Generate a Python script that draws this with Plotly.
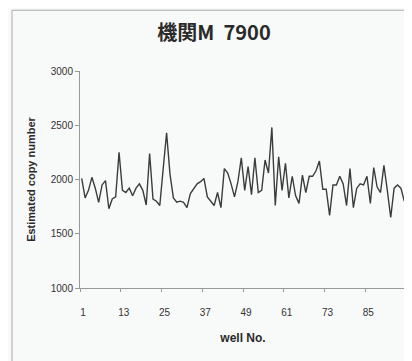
import plotly.graph_objects as go

title_text = "機関M  7900"
x_title = "well No."
y_title = "Estimated copy number"

wells = list(range(1, 97))
copy_number = [
    2010, 1830, 1900, 2020, 1920, 1790, 1950, 1990, 1730, 1820,
    1840, 2250, 1900, 1880, 1920, 1850, 1920, 1960, 1900, 1765,
    2240, 1820, 1800, 1760, 2100, 2430, 2050, 1830, 1790, 1800,
    1790, 1740, 1870, 1920, 1960, 1980, 2010, 1840, 1800, 1760,
    1880, 1740, 2100, 2060, 1960, 1840, 1980, 2200, 1900, 2120,
    1860, 2200, 1880, 1900, 2180, 2060, 2480, 1760, 2210, 1900,
    2150, 1830, 2030, 1850, 1780, 2040, 1880, 2030, 2030, 2080,
    2170, 1910, 1910, 1670, 1950, 1950, 2030, 1960, 1760, 2100,
    1740, 1920, 1960, 1950, 2030, 1780, 2110, 1930, 1880, 2130,
    1900, 1650, 1920, 1950, 1920, 1800,
]
x_tick_labels = ["1", "13", "25", "37", "49", "61", "73", "85", ""]
# tick marks sit on category boundaries (Excel category axis), labels next to them
x_tick_pos = [0.5, 12.5, 24.5, 36.5, 48.5, 60.5, 72.5, 84.5, 96.5]
y_tick_vals = [1000, 1500, 2000, 2500, 3000]

fig = go.Figure()
fig.add_trace(go.Scatter(
    x=wells, y=copy_number, mode="lines",
    line=dict(color="#3c3c3c", width=1.4),
    showlegend=False, hoverinfo="skip",
))

bg = "#f8f9f9"
fig.update_layout(
    width=404, height=353,
    margin=dict(l=72, r=6, t=63, b=73),
    paper_bgcolor=bg, plot_bgcolor=bg,
    font=dict(family="Liberation Sans, Arial, sans-serif", color="#333333"),
    title=dict(
        text=title_text, x=0.51, xanchor="center", y=0.929, yanchor="middle",
        font=dict(family="Noto Sans CJK JP, sans-serif", size=20, color="#2a2a2a", weight="bold"),
    ),
    xaxis=dict(
        range=[0.5, 96.5], tickmode="array", tickvals=x_tick_pos, ticktext=x_tick_labels,
        ticks="outside", ticklen=3, tickcolor="#999999",
        ticklabelstandoff=12, ticklabelshift=3,
        showgrid=False, zeroline=False,
        showline=True, linecolor="#999999", linewidth=1,
        tickfont=dict(size=10, color="#333333"),
        title=dict(text=x_title, font=dict(size=12, color="#2a2a2a", weight="bold"), standoff=16),
    ),
    yaxis=dict(
        range=[1000, 3000], tickmode="array", tickvals=y_tick_vals,
        ticks="outside", ticklen=4, tickcolor="#999999",
        showgrid=False, zeroline=False,
        showline=True, linecolor="#999999", linewidth=1,
        tickfont=dict(size=10, color="#333333"),
        title=dict(text=y_title, font=dict(size=11, color="#2a2a2a", weight="bold"), standoff=12),
    ),
    shapes=[dict(
        type="rect", xref="paper", yref="paper",
        x0=-0.2086, x1=1.05, y0=-0.36, y1=1.28,
        line=dict(color="#aaaaaa", width=1), fillcolor="rgba(0,0,0,0)", layer="below",
    )],
)

fig.write_html("out.html")
